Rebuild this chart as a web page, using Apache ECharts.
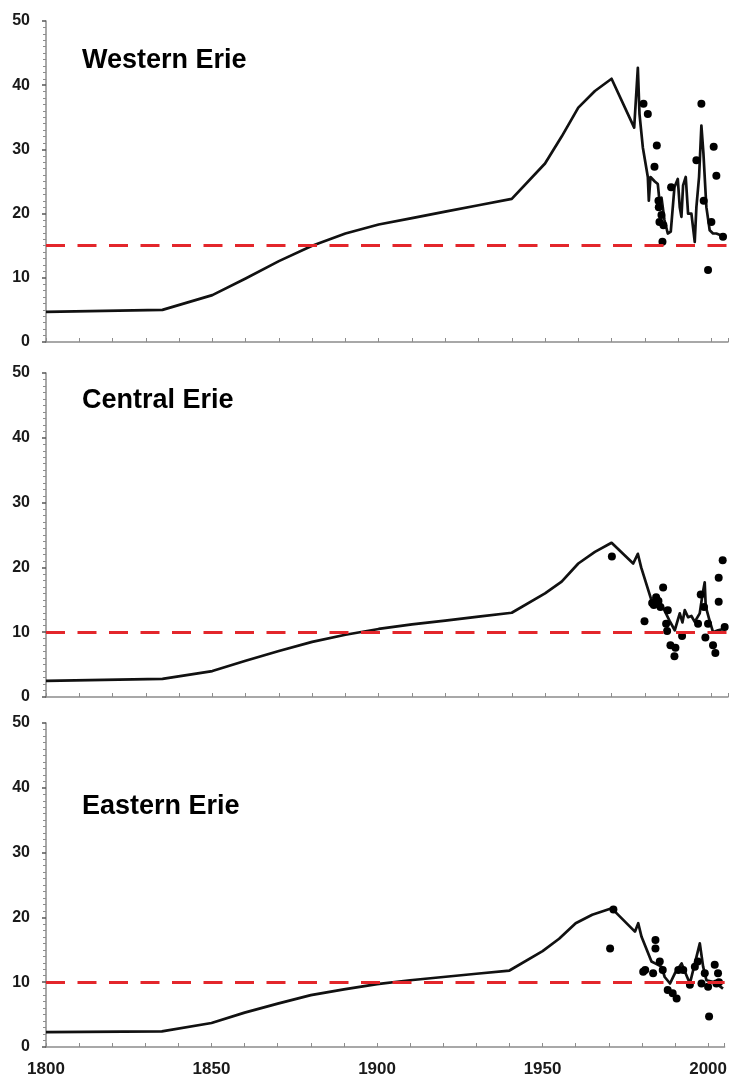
<!DOCTYPE html>
<html>
<head>
<meta charset="utf-8">
<title>Lake Erie basins</title>
<script src="https://cdn.jsdelivr.net/npm/echarts@6/dist/echarts.min.js"></script>
<style>
  html, body { margin: 0; padding: 0; background: #ffffff; }
  #chart { width: 730px; height: 1083px; }
</style>
</head>
<body>
<div id="chart"></div>
<script>
// Basin names, drawn as panel titles (top to bottom)
const basinNames = ['Western Erie', 'Central Erie', 'Eastern Erie'];

// Horizontal reference level for each basin (red dashed line)
const thresholds = [15, 10, 10];

// Axis ranges and tick labels
const yearRange = [1800, 2005];
const yearTickStep = 10;
const yearLabelStep = 50;
const valueRange = [0, 50];
const valueTickStep = 10;

// Model trajectory, [year, value]
const westernLine = [
  [1800, 4.7], [1835, 5.0], [1850, 7.3], [1860, 9.9], [1870, 12.6], [1880, 15.0],
  [1890, 16.9], [1900, 18.3], [1910, 19.3], [1920, 20.3], [1930, 21.3], [1940, 22.3],
  [1950, 27.8], [1955, 32.0], [1960, 36.5], [1965, 39.1], [1970, 41.0],
  [1976.8, 33.4], [1977.9, 42.7], [1978.4, 35.5], [1979.4, 30.3], [1980.9, 25.7],
  [1981.2, 22.0], [1981.7, 25.7], [1983.0, 25.0], [1983.9, 24.6], [1984.4, 22.0],
  [1985.0, 22.5], [1985.9, 19.0], [1986.9, 16.9], [1987.8, 17.2], [1988.9, 24.1],
  [1989.9, 25.4], [1990.5, 21.0], [1991.0, 19.5], [1991.5, 24.4], [1992.3, 25.7],
  [1993.0, 20.0], [1994.0, 20.0], [1995.0, 15.6], [1995.5, 21.0], [1996.3, 25.7],
  [1997.0, 33.7], [1997.6, 29.5], [1998.5, 21.0], [1999.5, 17.4], [2000.5, 16.9],
  [2001.5, 16.9], [2003.0, 16.6], [2004.5, 16.4]
];
const centralLine = [
  [1800, 2.5], [1835, 2.8], [1850, 4.0], [1860, 5.6], [1870, 7.1], [1880, 8.5],
  [1890, 9.6], [1900, 10.5], [1910, 11.2], [1920, 11.8], [1930, 12.4], [1940, 13.0],
  [1950, 16.0], [1955, 17.8], [1960, 20.6], [1965, 22.4], [1970, 23.8],
  [1976.5, 20.6], [1977.9, 22.1], [1978.9, 20.0], [1982.0, 14.9], [1983.5, 15.3],
  [1985.4, 13.9], [1987.4, 11.8], [1989.0, 10.3], [1990.5, 12.9], [1991.3, 11.5],
  [1992.0, 13.4], [1993.0, 12.3], [1994.0, 12.5], [1995.0, 11.6], [1996.5, 12.9],
  [1997.3, 15.7], [1998.0, 17.7], [1998.3, 14.0], [1999.3, 12.1], [2000.5, 10.0],
  [2002.0, 10.3], [2004.5, 10.6]
];
const easternLine = [
  [1800, 2.3], [1835, 2.4], [1850, 3.7], [1860, 5.3], [1870, 6.7], [1880, 8.0],
  [1890, 8.9], [1900, 9.7], [1910, 10.3], [1920, 10.8], [1930, 11.3], [1940, 11.8],
  [1950, 14.8], [1955, 16.7], [1960, 19.1], [1965, 20.4], [1970.9, 21.4],
  [1977.9, 17.8], [1978.9, 19.1], [1979.9, 17.0], [1982.9, 13.2], [1984.0, 12.9],
  [1985.9, 12.4], [1986.9, 10.8], [1988.5, 9.8], [1990.0, 11.4], [1992.0, 12.9],
  [1993.0, 11.6], [1994.5, 9.8], [1996.0, 12.9], [1997.5, 16.0], [1998.5, 12.4],
  [1999.5, 10.3], [2002.0, 10.0], [2004.5, 9.0]
];

// Observations, [year, value]
const westernObs = [
  [1979.6, 37.1], [1980.9, 35.5], [1982.9, 27.3], [1983.6, 30.6], [1984.1, 22.0],
  [1984.2, 21.0], [1985.0, 19.8], [1984.4, 18.7], [1985.6, 18.2], [1985.3, 15.6],
  [1987.9, 24.1], [1995.5, 28.3], [1997.0, 37.1], [1997.7, 22.0], [1999.0, 11.2],
  [2000.0, 18.7], [2000.7, 30.4], [2001.5, 25.9], [2003.5, 16.4]
];
const centralObs = [
  [1970.1, 21.7], [1979.9, 11.7], [1985.5, 16.9], [1983.4, 15.4], [1984.1, 14.8],
  [1982.7, 14.2], [1984.7, 13.9], [1982.2, 14.5], [1986.9, 13.4], [1986.4, 11.3],
  [1986.7, 10.2], [1987.7, 8.0], [1989.2, 7.6], [1988.9, 6.3], [1991.2, 9.4],
  [1996.0, 11.3], [1996.8, 15.8], [1997.8, 13.9], [1999.0, 11.3], [1998.2, 9.2],
  [2000.5, 8.0], [2001.2, 6.8], [2002.2, 14.7], [2002.2, 18.4], [2003.4, 21.1],
  [2004.0, 10.8]
];
const easternObs = [
  [1970.4, 15.2], [1971.4, 21.2], [1984.1, 16.5], [1984.1, 15.2], [1980.4, 11.6],
  [1981.0, 11.9], [1983.4, 11.4], [1985.4, 13.2], [1986.3, 11.9], [1987.8, 8.8],
  [1989.3, 8.3], [1990.5, 7.5], [1991.0, 11.9], [1992.5, 11.9], [1994.5, 9.6],
  [1996.0, 12.4], [1996.9, 13.2], [1999.0, 11.4], [1998.0, 9.8], [2000.0, 9.3],
  [2000.3, 4.7], [2002.0, 12.7], [2003.0, 11.4], [2003.3, 10.0], [2002.5, 9.8]
];

const lines = [westernLine, centralLine, easternLine];
const observations = [westernObs, centralObs, easternObs];

// Panel placement in pixels
const panels = [
  { top: 21, height: 321, titleTop: 47 },
  { top: 373, height: 324, titleTop: 387 },
  { top: 723, height: 324, titleTop: 793 }
];

const FONT = '"Liberation Sans", Arial, Helvetica, sans-serif';
const AXIS_GREY = '#8c8c8c';

const chart = echarts.init(document.getElementById('chart'), null, { renderer: 'canvas' });

const grid = panels.map(p => ({ left: 46, right: 2, top: p.top, height: p.height }));

const xAxis = panels.map((p, i) => ({
  type: 'value',
  gridIndex: i,
  min: yearRange[0],
  max: yearRange[1],
  interval: yearTickStep,
  splitLine: { show: false },
  axisLine: { show: true, lineStyle: { color: AXIS_GREY, width: 1.5 } },
  axisTick: { show: true, inside: true, length: 4, lineStyle: { color: AXIS_GREY, width: 1 } },
  axisLabel: {
    show: i === panels.length - 1,
    margin: 14,
    fontFamily: FONT,
    fontSize: 17,
    fontWeight: 'bold',
    color: '#1a1a1a',
    formatter: v => (v % yearLabelStep === 0 ? String(v) : '')
  }
}));

const yAxis = panels.map((p, i) => ({
  type: 'value',
  gridIndex: i,
  min: valueRange[0],
  max: valueRange[1],
  interval: valueTickStep,
  splitLine: { show: false },
  axisLine: { show: true, onZero: false, lineStyle: { color: AXIS_GREY, width: 1.5 } },
  axisTick: { show: true, length: 4, lineStyle: { color: '#555', width: 1.5 } },
  minorTick: { show: true, splitNumber: 10, length: 3, lineStyle: { color: AXIS_GREY, width: 1 } },
  axisLabel: {
    margin: 16,
    fontFamily: FONT,
    fontSize: 16,
    fontWeight: 'bold',
    color: '#1a1a1a'
  }
}));

const title = panels.map((p, i) => ({
  text: basinNames[i],
  left: 82,
  top: p.titleTop,
  padding: 0,
  textStyle: { fontFamily: FONT, fontSize: 27, fontWeight: 'bold', color: '#000' }
}));

const series = [];
panels.forEach((p, i) => {
  series.push({
    type: 'line',
    name: basinNames[i] + ' reference',
    xAxisIndex: i,
    yAxisIndex: i,
    data: [],
    silent: true,
    z: 1,
    markLine: {
      silent: true,
      symbol: 'none',
      label: { show: false },
      lineStyle: { color: '#e3262b', width: 3, type: [19, 12.5] },
      data: [{ yAxis: thresholds[i] }]
    }
  });
  series.push({
    type: 'line',
    name: basinNames[i],
    xAxisIndex: i,
    yAxisIndex: i,
    data: lines[i],
    showSymbol: false,
    symbol: 'none',
    z: 3,
    lineStyle: { color: '#111', width: 2.7, join: 'round' }
  });
  series.push({
    type: 'scatter',
    name: basinNames[i] + ' observed',
    xAxisIndex: i,
    yAxisIndex: i,
    data: observations[i],
    symbol: 'circle',
    symbolSize: 8,
    z: 4,
    itemStyle: { color: '#000', opacity: 1 }
  });
});

chart.setOption({
  animation: false,
  backgroundColor: '#ffffff',
  title,
  grid,
  xAxis,
  yAxis,
  series
});
</script>
</body>
</html>
